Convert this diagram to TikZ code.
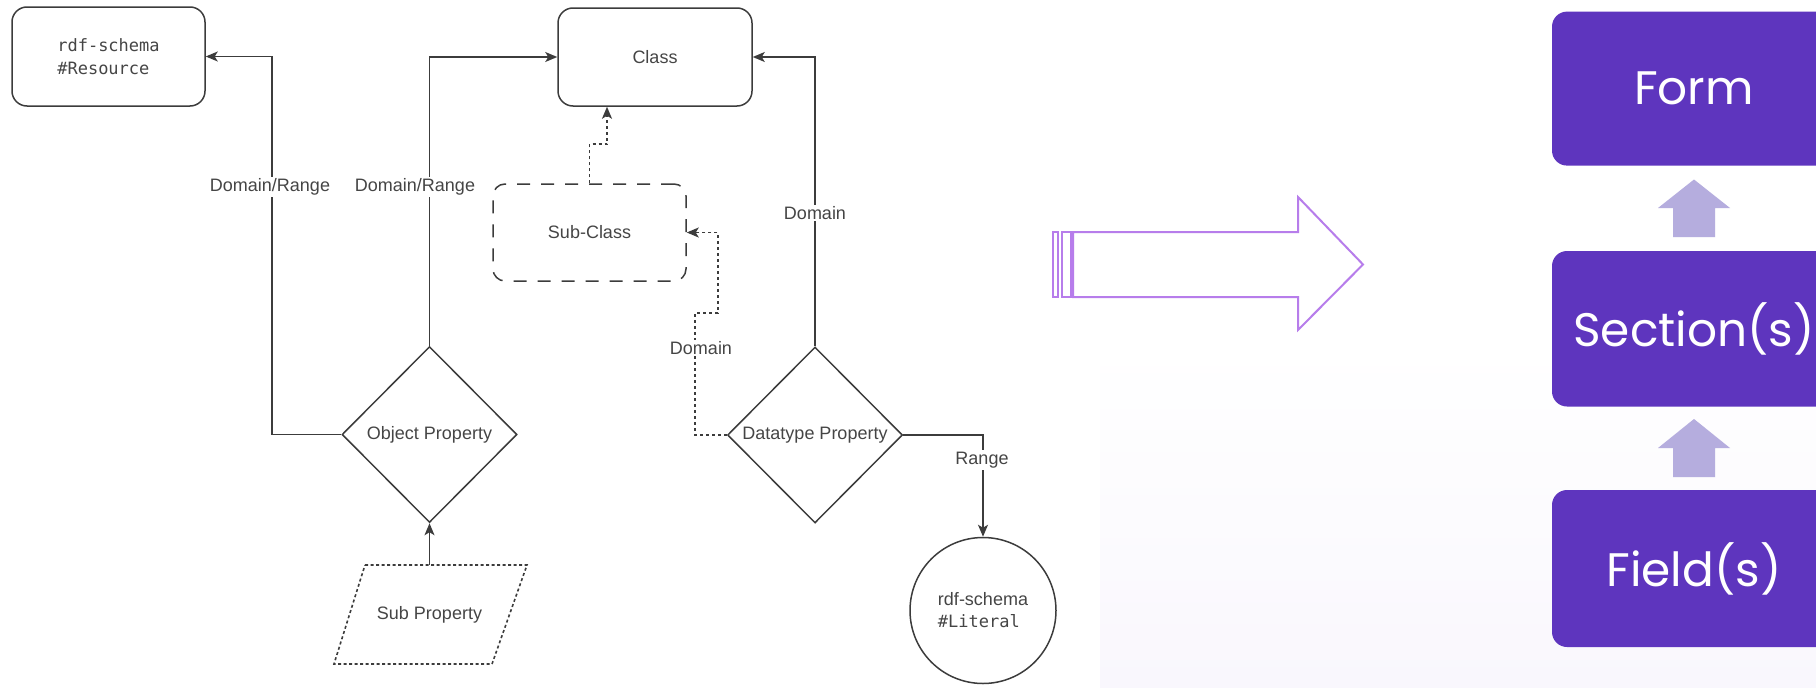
\documentclass[tikz,border=0pt]{standalone}
\usepackage{fontspec}
\setmainfont{Liberation Sans}
\newfontfamily\monof{DejaVu Sans Mono}
\newfontfamily\popf{Poppins}
\usetikzlibrary{shapes.geometric,arrows.meta}
\definecolor{ln}{HTML}{3C3C3C}
\definecolor{tx}{HTML}{454545}
\definecolor{vio}{HTML}{5E35BE}
\definecolor{lvio}{HTML}{B5ADDE}
\definecolor{arr}{HTML}{B77DEB}
\definecolor{bgt}{HTML}{F9F7FD}
\begin{document}
\begin{tikzpicture}[x=1pt,y=-1pt,
  lbl/.style={font=\fontsize{18}{21}\selectfont, text=tx, inner sep=1.5pt},
  wlbl/.style={lbl, fill=white},
  shp/.style={draw=ln, line width=1.5pt, text=tx, font=\fontsize{18}{21}\selectfont, inner sep=0pt},
  rbox/.style={shp, rectangle, rounded corners=15pt},
  dia/.style={shp, diamond, minimum width=175pt, minimum height=176pt},
  conn/.style={draw=ln, line width=1.5pt, -{Stealth[length=12pt,width=10pt,inset=3pt]}},
  dconn/.style={conn, line width=1.7pt, dash pattern=on 3pt off 3pt},
  pbox/.style={rectangle, rounded corners=15pt, fill=vio, text=white, minimum width=284pt, inner sep=0pt, font=\popf\fontsize{47}{56}\selectfont},
  big/.style={draw=arr, line width=2pt, fill=white}
]
\useasboundingbox (0,0) rectangle (1816,688);
% right panel background
\shade[top color=white, bottom color=bgt, middle color=white] (1100,0) rectangle (1816,688);

% left diagram nodes
\node[rbox, minimum width=193pt, minimum height=99pt, align=left, font=\monof\fontsize{17}{23}\selectfont] (res) at (108.5,56.5) {rdf-schema\\\#Resource};
\node[rbox, minimum width=194pt, minimum height=98pt] (class) at (655,57) {Class};
\node[rbox, rounded corners=12pt, minimum width=193pt, minimum height=97pt, dash pattern=on 13pt off 11pt] (sub) at (589.5,232.5) {Sub-Class};
\node[dia, label={[lbl]center:Object Property}] (op) at (429.5,434.5) {};
\node[dia, label={[lbl]center:Datatype Property}] (dp) at (815,435) {};
\node[shp, circle, minimum size=146pt, align=left] (lit) at (983,610.5) {rdf-schema\\[1pt]{\monof\fontsize{17}{23}\selectfont\#Literal}};
\node[lbl] (subp) at (429.5,614.5) {Sub Property};
\draw[draw=ln, line width=1.6pt, dash pattern=on 3pt off 2.5pt] (365,565) -- (527,565) -- (492,664) -- (334,664) -- cycle;
\coordinate (subptop) at (429.5,565);

% connectors
\draw[conn] (op.west) -- ++(-69.5,0) |- (res.east);
\node[wlbl] at (270,187) {Domain/Range};
\draw[conn] (op.north) |- (class.west);
\node[wlbl] at (415,187) {Domain/Range};
\draw[conn] (dp.north) |- (class.east);
\node[wlbl] at (815,213) {Domain};
\draw[dconn] (sub.north) -- ++(0,-39) -| ([xshift=-48pt]class.south);
\draw[dconn] (dp.west) -- (695,435) -- (695,313) -- (718,313) -- (718,232.5) -- (sub.east);
\node[wlbl] at (701,348) {Domain};
\draw[conn] (dp.east) -| (lit.north);
\node[wlbl] at (982,460) {Range};
\draw[conn] (subptop) -- (op.south);

% big outlined arrow
\draw[big] (1053,232) rectangle (1058,297);
\draw[big] (1062,232) rectangle (1071,297);
\draw[big] (1073,232) -- (1298,232) -- (1298,197) -- (1363,264.5) -- (1298,330) -- (1298,297) -- (1073,297) -- cycle;

% right stack
\node[pbox, minimum height=154pt] (form) at (1694,88.6) {Form};
\node[pbox, minimum height=155.5pt] (sect) at (1694,328.75) {Section(s)};
\node[pbox, minimum height=157pt] (field) at (1694,568.5) {Field(s)};
\fill[lvio] (1673,237) -- (1673,208) -- (1658,208) -- (1694,179.5) -- (1730,208) -- (1715,208) -- (1715,237) -- cycle;
\fill[lvio] (1673,477) -- (1673,448) -- (1658,448) -- (1694,419) -- (1730,448) -- (1715,448) -- (1715,477) -- cycle;
\end{tikzpicture}
\end{document}
